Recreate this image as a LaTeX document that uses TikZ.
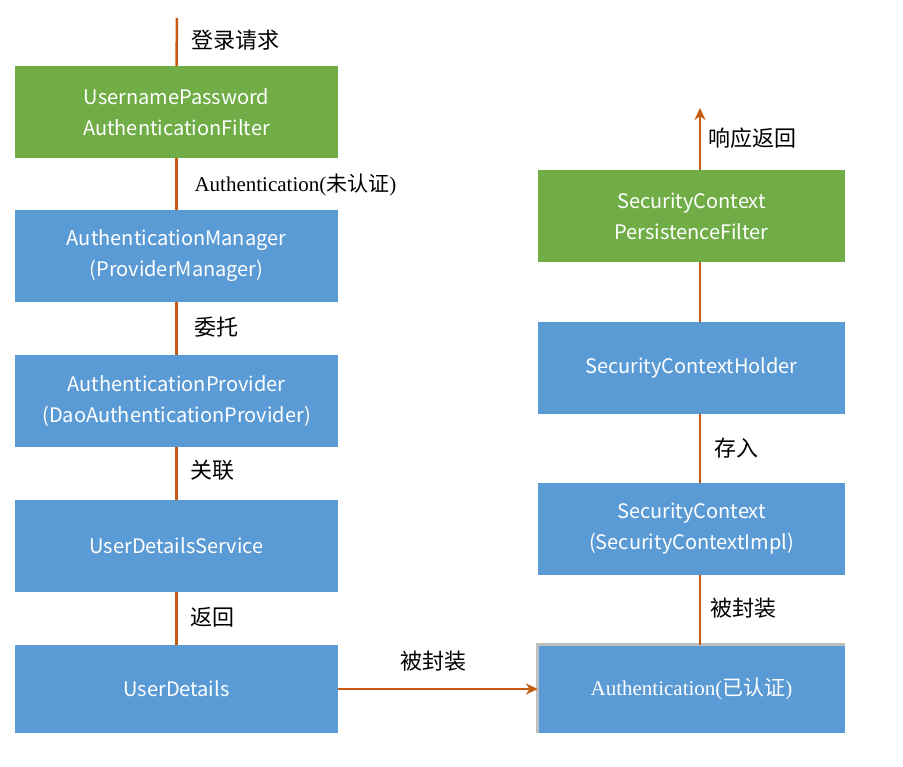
\documentclass[tikz,border=0pt]{standalone}
\usepackage{fontspec}
\usetikzlibrary{arrows.meta}
\setmainfont{Liberation Serif}
\newfontfamily\cjk{Noto Sans CJK SC}
\definecolor{boxgreen}{HTML}{70AD47}
\definecolor{boxblue}{HTML}{5B9BD5}
\definecolor{flow}{HTML}{C55A11}
\tikzset{
  stage/.style={minimum width=323pt, minimum height=92pt, inner sep=0pt,
    text=white, align=center, font=\cjk\fontsize{20}{31}\selectfont},
  leftstage/.style={stage, fill=boxblue},
  rightstage/.style={stage, fill=boxblue, minimum width=307pt},
  label/.style={anchor=west, font=\cjk\fontsize{22}{26}\selectfont},
  link/.style={flow, line width=2.5pt}
}
\begin{document}
\begin{tikzpicture}[x=1pt,y=-1pt]
\useasboundingbox (0,0) rectangle (903,767);
% left column
\node[leftstage, fill=boxgreen] (filter) at (176.5,112) {UsernamePassword\\AuthenticationFilter};
\node[leftstage] (manager) at (176.5,256) {AuthenticationManager\\(ProviderManager)};
\node[leftstage] (provider) at (176.5,401) {AuthenticationProvider\\(DaoAuthenticationProvider)};
\node[leftstage] (service) at (176.5,546) {UserDetailsService};
\node[leftstage, minimum height=88pt] (details) at (176.5,689) {UserDetails};
% right column
\node[rightstage, fill=boxgreen] (persist) at (691.5,216) {SecurityContext\\PersistenceFilter};
\node[rightstage] (holder) at (691.5,368) {SecurityContextHolder};
\node[rightstage] (context) at (691.5,529) {SecurityContext\\(SecurityContextImpl)};
\node[rightstage, minimum height=88pt, font=\fontsize{21}{24}\selectfont] (auth) at (691.5,689) {Authentication({\cjk 已认证})};
\draw[gray!50, line width=3pt] (auth.south west) -- (auth.north west) -- (auth.north east);
\coordinate (request) at (177,18);
\coordinate (response) at (700,108);
% connectors
\draw[link] (request) -- (filter.north);
\draw[link] (filter) -- (manager);
\draw[link] (manager) -- (provider);
\draw[link] (provider) -- (service);
\draw[link] (service) -- (details);
\draw[link, -{Stealth[length=12pt,width=11pt]}] (details) -- (auth);
\draw[link] (auth.north -| response) -- (context.south -| response);
\draw[link] (context.north -| response) -- (holder.south -| response);
\draw[link] (holder.north -| response) -- (persist.south -| response);
\draw[link, -{Stealth[length=12pt,width=11pt]}] (persist.north -| response) -- (response);
% labels
\node[label] (l1) at (188,40) {登录请求};
\node[label, font=\fontsize{21}{24}\selectfont] (l2) at (191,185) {Authentication({\cjk 未认证})};
\node[label] (l3) at (191,327) {委托};
\node[label] (l4) at (187,470) {关联};
\node[label] (l5) at (187,617) {返回};
\node[label] (l6) at (397,661) {被封装};
\node[label] (l7) at (707,608) {被封装};
\node[label] (l8) at (711,448) {存入};
\node[label] (l9) at (705,138) {响应返回};
\end{tikzpicture}
\end{document}
